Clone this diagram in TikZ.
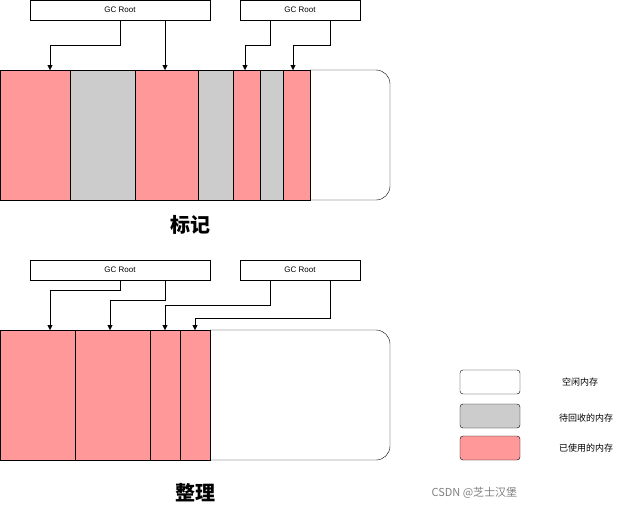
\documentclass[tikz,border=0pt]{standalone}
\usepackage{fontspec}
\setmainfont{Liberation Sans}
\newfontfamily\cjk{Noto Sans CJK SC}
\usetikzlibrary{arrows.meta}
\definecolor{used}{HTML}{FF9999}
\definecolor{freed}{HTML}{CCCCCC}
\begin{document}
\begin{tikzpicture}[x=1pt,y=-1pt,
  root/.style={draw,minimum width=#1pt,minimum height=20pt,inner sep=0pt,font=\fontsize{8}{8}\selectfont},
  seg/.style={draw,fill=#1},
  ref/.style={-{Triangle[length=5pt,width=5pt]}},
  legend/.style={draw,rounded corners=3pt,fill=#1,minimum width=60pt,minimum height=24pt}
  ]
\useasboundingbox (0,0) rectangle (631,511);
% mark phase
\node[root=180] (r1) at (120,10) {GC Root};
\node[root=120] (r2) at (300,10) {GC Root};
\draw[rounded corners=14pt] (310,70) -- (390,70) -- (390,200) -- (310,200);
\draw[seg=used] (0,70) rectangle (70,200);
\draw[seg=freed] (70,70) rectangle (135,200);
\draw[seg=used] (135,70) rectangle (198,200);
\draw[seg=freed] (198,70) rectangle (233,200);
\draw[seg=used] (233,70) rectangle (260,200);
\draw[seg=freed] (260,70) rectangle (283,200);
\draw[seg=used] (283,70) rectangle (310,200);
\coordinate (m1) at (50,70);
\coordinate (m2) at (165,70);
\coordinate (m3) at (245,70);
\coordinate (m4) at (293,70);
\draw[ref] (r1.south -| 120,0) |- (50,45) -- (m1);
\draw[ref] (r1.south -| m2) -- (m2);
\draw[ref] (r2.south -| 270,0) |- (245,45) -- (m3);
\draw[ref] (r2.south -| 330,0) |- (293,45) -- (m4);
\node[font=\cjk\bfseries\fontsize{20}{20}\selectfont] (t1) at (190,225) {标记};
% compact phase
\node[root=180] (r3) at (120,270) {GC Root};
\node[root=120] (r4) at (300,270) {GC Root};
\draw[rounded corners=14pt] (210,330) -- (390,330) -- (390,460) -- (210,460);
\draw[seg=used] (0,330) rectangle (75,460);
\draw[seg=used] (75,330) rectangle (150,460);
\draw[seg=used] (150,330) rectangle (180,460);
\draw[seg=used] (180,330) rectangle (210,460);
\coordinate (c1) at (50,330);
\coordinate (c2) at (110,330);
\coordinate (c3) at (165,330);
\coordinate (c4) at (195,330);
\draw[ref] (r3.south -| 120,0) |- (50,290) -- (c1);
\draw[ref] (r3.south -| 165,0) |- (110,300) -- (c2);
\draw[ref] (r4.south -| 270,0) |- (165,305) -- (c3);
\draw[ref] (r4.south -| 330,0) |- (195,318) -- (c4);
\node[font=\cjk\bfseries\fontsize{20}{20}\selectfont] (t2) at (195,493) {整理};
% legend
\node[legend=white] (l1) at (490,382) {};
\node[legend=freed] (l2) at (490,416) {};
\node[legend=used] (l3) at (490,448) {};
\node[font=\cjk\fontsize{9}{9}\selectfont] at (580,382) {空闲内存};
\node[font=\cjk\fontsize{9}{9}\selectfont] at (586,418) {待回收的内存};
\node[font=\cjk\fontsize{9}{9}\selectfont] at (586,448) {已使用的内存};
\node[font=\cjk\fontsize{11}{11}\selectfont,text=gray,anchor=west] at (428,493) {CSDN @芝士汉堡};
\end{tikzpicture}
\end{document}
